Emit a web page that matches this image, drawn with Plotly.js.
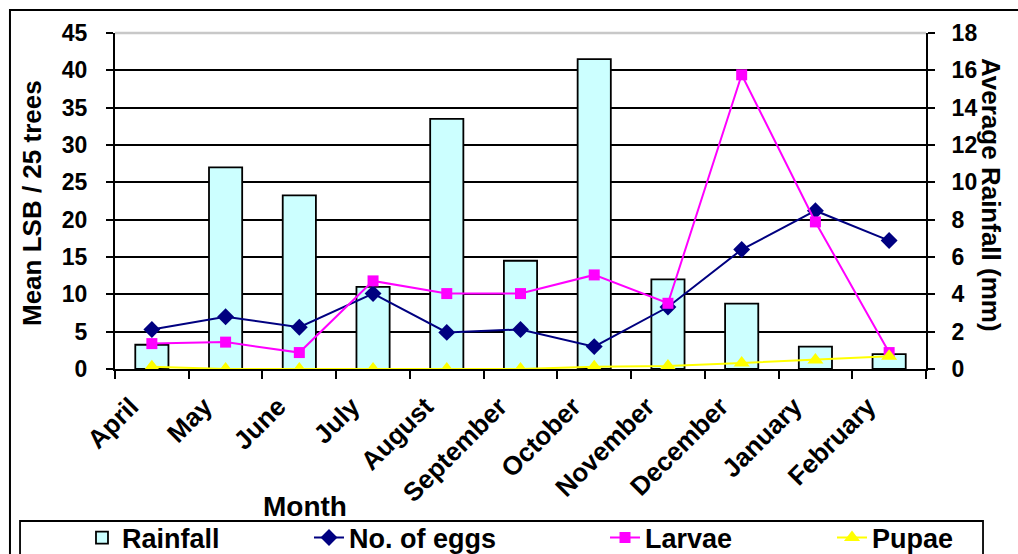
<!DOCTYPE html>
<html>
<head>
<meta charset="utf-8">
<script src="https://cdn.plot.ly/plotly-3.0.1.min.js"></script>
<style>
  html, body { margin: 0; padding: 0; background: #ffffff; }
  #chart { width: 1018px; height: 554px; }
</style>
</head>
<body>
<div id="chart"></div>
<script>
// Monthly counts of LSB stages per 25 trees against average rainfall
const months = ['April', 'May', 'June', 'July', 'August', 'September',
                'October', 'November', 'December', 'January', 'February'];
const rainfall = [1.3, 10.8, 9.3, 4.4, 13.4, 5.8, 16.6, 4.8, 3.5, 1.2, 0.8];
const eggs     = [5.3, 7.0, 5.6, 10.1, 4.9, 5.3, 3.0, 8.3, 16.0, 21.2, 17.2];
const larvae   = [3.4, 3.6, 2.2, 11.8, 10.1, 10.1, 12.6, 8.8, 39.4, 19.7, 2.2];
const pupae    = [0.3, 0, 0, 0, 0, 0, 0.3, 0.4, 0.8, 1.2, 1.7];

const lsbTicks = [0, 5, 10, 15, 20, 25, 30, 35, 40, 45];
const rainTicks = [0, 2, 4, 6, 8, 10, 12, 14, 16, 18];

const FONT = 'Liberation Sans, Arial, Helvetica, sans-serif';

const traces = [
  {
    type: 'bar', name: 'Rainfall', x: months, y: rainfall,
    yaxis: 'y', width: 0.45,
    marker: { color: '#CCFFFF', line: { color: '#000000', width: 1.8 } },
    legend: 'legend'
  },
  {
    type: 'scatter', mode: 'lines+markers', name: 'No. of eggs',
    x: months, y: eggs, yaxis: 'y2',
    line: { color: '#000080', width: 2 },
    marker: { symbol: 'diamond', size: 13, color: '#000080' },
    legend: 'legend2'
  },
  {
    type: 'scatter', mode: 'lines+markers', name: 'Larvae',
    x: months, y: larvae, yaxis: 'y2',
    line: { color: '#FF00FF', width: 2 },
    marker: { symbol: 'square', size: 11, color: '#FF00FF' },
    legend: 'legend3'
  },
  {
    type: 'scatter', mode: 'lines+markers', name: 'Pupae',
    x: months, y: pupae, yaxis: 'y2',
    line: { color: '#FFFF00', width: 2 },
    marker: { symbol: 'triangle-up', size: 14, color: '#FFFF00' },
    legend: 'legend4'
  }
];

function legendAt(x) {
  return {
    x: x, xanchor: 'left', y: -0.503, yanchor: 'middle',
    orientation: 'h', bgcolor: 'rgba(0,0,0,0)', borderwidth: 0,
    font: { family: FONT, size: 27, color: '#000000', weight: 'bold' }
  };
}

const layout = {
  width: 1018, height: 554,
  margin: { l: 115, r: 92, t: 33, b: 185, autoexpand: false },
  paper_bgcolor: '#ffffff', plot_bgcolor: '#ffffff',
  font: { family: FONT, color: '#000000' },
  showlegend: true,
  bargap: 0.55,
  xaxis: {
    type: 'category', range: [-0.5, 10.5],
    tickson: 'boundaries', ticks: 'outside', ticklen: 8, tickwidth: 2, tickcolor: '#000000',
    showline: true, linecolor: '#000000', linewidth: 2,
    showgrid: false, zeroline: false,
    tickangle: -45,
    ticklabelstandoff: 10,
    ticklabelshift: -21,
    tickfont: { family: FONT, size: 26, color: '#000000', weight: 'bold' }
  },
  yaxis: {
    side: 'right', range: [0, 18], tickvals: rainTicks,
    ticks: 'outside', ticklen: 7, tickwidth: 2, tickcolor: '#000000',
    ticklabelstandoff: 12,
    showline: true, linecolor: '#000000', linewidth: 2,
    showgrid: true, gridcolor: '#000000', gridwidth: 2,
    zeroline: false,
    tickfont: { family: FONT, size: 23, color: '#000000', weight: 'bold' }
  },
  yaxis2: {
    side: 'left', overlaying: 'y', range: [0, 45], tickvals: lsbTicks,
    ticks: 'outside', ticklen: 7, tickwidth: 2, tickcolor: '#000000',
    ticklabelstandoff: 14,
    showline: true, linecolor: '#000000', linewidth: 2,
    showgrid: false, zeroline: false,
    tickfont: { family: FONT, size: 23, color: '#000000', weight: 'bold' }
  },
  legend: legendAt(-0.0407),
  legend2: legendAt(0.2392),
  legend3: legendAt(0.6042),
  legend4: legendAt(0.8841),
  shapes: [
    // chart frame
    { type: 'rect', xref: 'paper', yref: 'paper', x0: -0.1295, x1: 1.25, y0: -0.9, y1: 1.0685,
      line: { color: '#000000', width: 2 }, fillcolor: 'rgba(0,0,0,0)', layer: 'below' },
    // plot-area top edge
    { type: 'line', xref: 'paper', yref: 'paper', x0: 0, x1: 1, y0: 1, y1: 1,
      line: { color: '#C8C8C8', width: 2.5 }, layer: 'above' },
    // legend box
    { type: 'rect', xref: 'paper', yref: 'paper', x0: -0.1171, x1: 1.0703, y0: -0.75, y1: -0.4524,
      line: { color: '#000000', width: 1.8 }, fillcolor: 'rgba(0,0,0,0)', layer: 'below' }
  ],
  annotations: [
    { text: 'Mean LSB / 25 trees', xref: 'paper', yref: 'paper', x: -0.1017, y: 0.4926,
      xanchor: 'center', yanchor: 'middle', textangle: -90, showarrow: false,
      font: { family: FONT, size: 26, color: '#000000', weight: 'bold' } },
    { text: 'Average Rainfall (mm)', xref: 'paper', yref: 'paper', x: 1.0801, y: 0.5179,
      xanchor: 'center', yanchor: 'middle', textangle: 90, showarrow: false,
      font: { family: FONT, size: 26, color: '#000000', weight: 'bold' } },
    { text: 'Month', xref: 'paper', yref: 'paper', x: 0.2337, y: -0.4107,
      xanchor: 'center', yanchor: 'middle', showarrow: false,
      font: { family: FONT, size: 28, color: '#000000', weight: 'bold' } }
  ]
};

Plotly.newPlot('chart', traces, layout, { displayModeBar: false, staticPlot: true });
</script>
</body>
</html>
